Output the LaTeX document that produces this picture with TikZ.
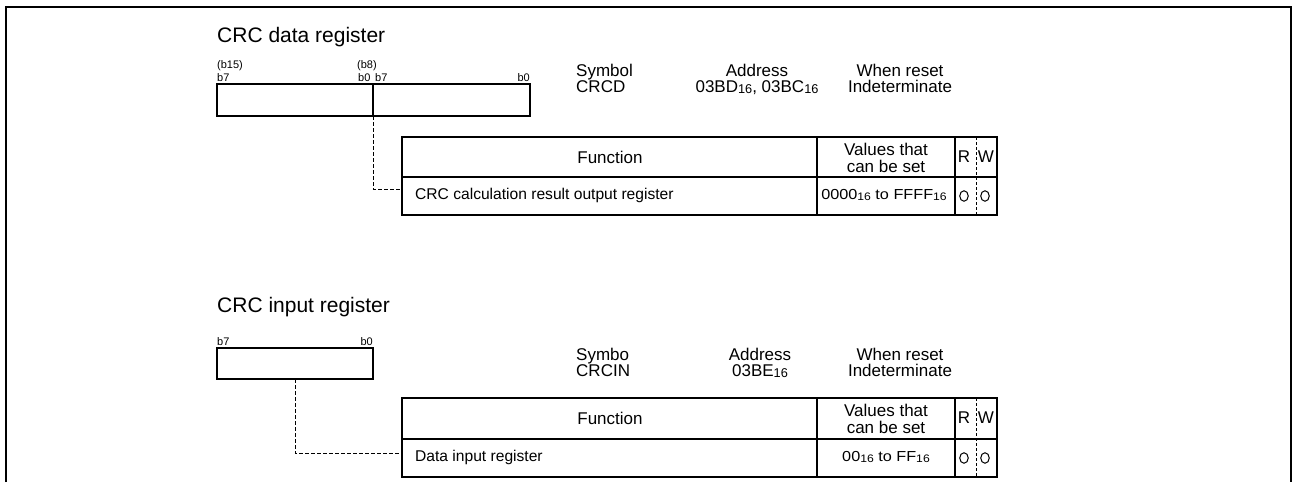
\documentclass[tikz,border=0pt]{standalone}
\usepackage{fontspec}
\usepackage{graphicx}
\setmainfont{Liberation Sans}
\usetikzlibrary{shapes.geometric}
\newcommand\hs[1]{#1\raisebox{-0.08em}{\scalebox{0.75}{16}}}
\newcommand\wide[1]{\scalebox{1.12}[1]{#1}}
\begin{document}
\begin{tikzpicture}[x=1pt,y=-1pt,
  frame/.style={line width=1.6pt},
  regbox/.style={draw, line width=1.2pt, inner sep=0pt, outer sep=0pt, anchor=north west},
  cell/.style={draw, line width=1.2pt, inner sep=0pt, outer sep=0pt, anchor=north west},
  conn/.style={line width=0.9pt, dash pattern=on 3.5pt off 2.5pt},
  rwsep/.style={line width=0.6pt, dash pattern=on 3pt off 2pt},
  title/.style={font=\fontsize{21}{23}\selectfont, anchor=base west, inner sep=0pt},
  info/.style={font=\fontsize{17}{18}\selectfont, inner sep=0pt},
  bit/.style={font=\fontsize{11}{12}\selectfont, inner sep=0pt},
  hdr/.style={font=\fontsize{17}{18}\selectfont, inner sep=0pt},
  rowtxt/.style={font=\fontsize{15.6}{16}\selectfont, inner sep=0pt, anchor=west},
  valtxt/.style={font=\fontsize{14.5}{15}\selectfont, inner sep=0pt},
  okmark/.style={draw, ellipse, line width=1pt, minimum width=8.5pt, minimum height=10.5pt, inner sep=0pt}
]
\useasboundingbox (0,0) rectangle (1295,482);
% outer frame
\draw[frame] (6,482) -- (6,7) -- (1291,7) -- (1291,482);

% ---------------- CRC data register ----------------
\node[title] (t1) at (217,42) {CRC data register};
\node[regbox, minimum width=156pt, minimum height=32pt] (r1h) at (217,84) {};
\node[regbox, minimum width=157pt, minimum height=32pt] (r1l) at (373,84) {};
\node[bit, anchor=base west] (l1a) at (217,68) {(b15)};
\node[bit, anchor=base west] (l1b) at (217,81) {b7};
\node[bit, anchor=base west] (l1c) at (357,68) {(b8)};
\node[bit, anchor=base west] (l1d) at (358,81) {b0};
\node[bit, anchor=base west] (l1e) at (375,81) {b7};
\node[bit, anchor=base east] (l1f) at (530,81) {b0};

\node[info, anchor=base west] (s1a) at (576,76) {Symbol};
\node[info, anchor=base west] (s1b) at (576,92) {CRCD};
\node[info, anchor=base] (a1a) at (757,76) {Address};
\node[info, anchor=base] (a1b) at (757,92) {\hs{03BD}, \hs{03BC}};
\node[info, anchor=base] (w1a) at (900,76) {When reset};
\node[info, anchor=base] (w1b) at (900,92) {Indeterminate};

\node[cell, minimum width=415pt, minimum height=40pt] (f1h) at (402,137) {};
\node[cell, minimum width=138pt, minimum height=40pt] (v1h) at (817,137) {};
\node[cell, minimum width=42pt, minimum height=40pt] (rw1h) at (955,137) {};
\node[cell, minimum width=415pt, minimum height=38pt] (f1r) at (402,177) {};
\node[cell, minimum width=138pt, minimum height=38pt] (v1r) at (817,177) {};
\node[cell, minimum width=42pt, minimum height=38pt] (rw1r) at (955,177) {};
\node[hdr] (f1ht) at (610,157) {Function};
\node[hdr, anchor=base] (v1ht1) at (886,155) {Values that};
\node[hdr, anchor=base] (v1ht2) at (886,172) {can be set};
\node[hdr] (r1t) at (964,157) {R};
\node[hdr] (w1t) at (986,157) {W};
\draw[rwsep] (rw1h.north) -- (rw1r.south);
\node[rowtxt] (f1rt) at (415,195) {CRC calculation result output register};
\node[valtxt] (v1rt) at (884,195) {\wide{\hs{0000} to \hs{FFFF}}};
\node[okmark] (o1r) at (964,196) {};
\node[okmark] (o1w) at (985,196) {};
\coordinate (j1) at (402,189);
\draw[conn] (r1h.south east) |- (j1);

% ---------------- CRC input register ----------------
\node[title] (t2) at (217,312) {CRC input register};
\node[regbox, minimum width=156pt, minimum height=31pt] (r2) at (217,348) {};
\node[bit, anchor=base west] (l2a) at (217,345) {b7};
\node[bit, anchor=base east] (l2b) at (373,345) {b0};

\node[info, anchor=base west] (s2a) at (576,360) {Symbo};
\node[info, anchor=base west] (s2b) at (576,376) {CRCIN};
\node[info, anchor=base] (a2a) at (760,360) {Address};
\node[info, anchor=base] (a2b) at (760,376) {\hs{03BE}};
\node[info, anchor=base] (w2a) at (900,360) {When reset};
\node[info, anchor=base] (w2b) at (900,376) {Indeterminate};

\node[cell, minimum width=415pt, minimum height=41pt] (f2h) at (402,398) {};
\node[cell, minimum width=138pt, minimum height=41pt] (v2h) at (817,398) {};
\node[cell, minimum width=42pt, minimum height=41pt] (rw2h) at (955,398) {};
\node[cell, minimum width=415pt, minimum height=38pt] (f2r) at (402,439) {};
\node[cell, minimum width=138pt, minimum height=38pt] (v2r) at (817,439) {};
\node[cell, minimum width=42pt, minimum height=38pt] (rw2r) at (955,439) {};
\node[hdr] (f2ht) at (610,418) {Function};
\node[hdr, anchor=base] (v2ht1) at (886,416) {Values that};
\node[hdr, anchor=base] (v2ht2) at (886,433) {can be set};
\node[hdr] (r2t) at (964,418) {R};
\node[hdr] (w2t) at (986,418) {W};
\draw[rwsep] (rw2h.north) -- (rw2r.south);
\node[rowtxt] (f2rt) at (415,457) {Data input register};
\node[valtxt] (v2rt) at (886,457) {\wide{\hs{00} to \hs{FF}}};
\node[okmark] (o2r) at (964,458) {};
\node[okmark] (o2w) at (985,458) {};
\coordinate (j2) at (402,453);
\draw[conn] (r2.south) |- (j2);
\end{tikzpicture}
\end{document}
